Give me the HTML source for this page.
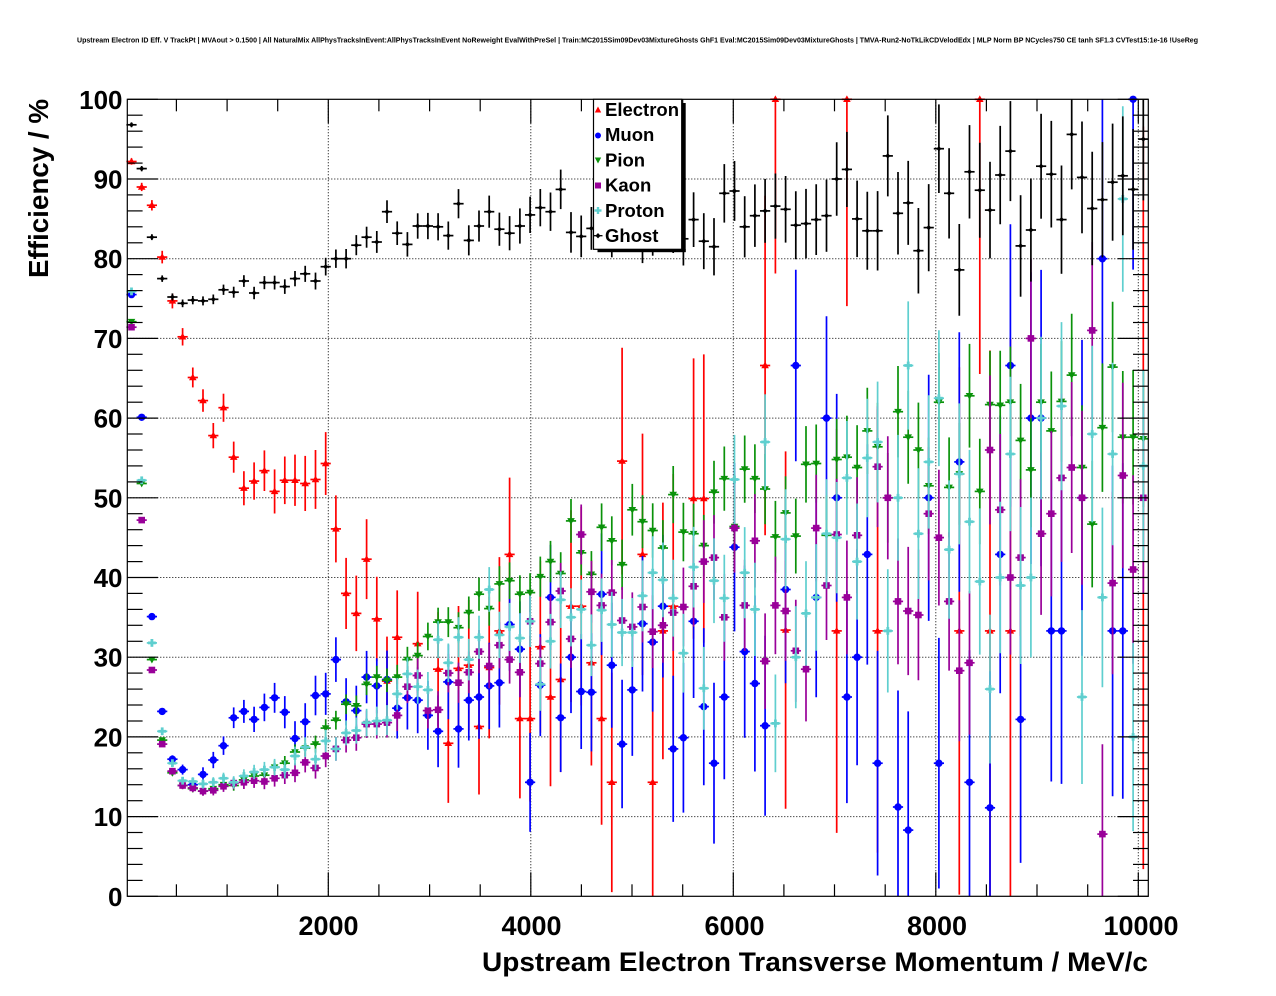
<!DOCTYPE html>
<html><head><meta charset="utf-8">
<style>
html,body{margin:0;padding:0;background:#fff;}
svg{display:block;}
text{font-family:"Liberation Sans",Arial,Helvetica,sans-serif;font-weight:bold;fill:#000;}
</style></head>
<body>
<svg id="s" width="1276" height="996" viewBox="0 0 1276 996" xmlns="http://www.w3.org/2000/svg">
<rect width="1276" height="996" fill="#fff"/>
<text x="637.5" y="42.5" font-size="7" text-anchor="middle" textLength="1121" lengthAdjust="spacingAndGlyphs">Upstream Electron ID Eff. V TrackPt | MVAout &gt; 0.1500 | All NaturalMix AllPhysTracksInEvent:AllPhysTracksInEvent NoReweight EvalWithPreSel | Train:MC2015Sim09Dev03MixtureGhosts GhF1 Eval:MC2015Sim09Dev03MixtureGhosts | TMVA-Run2-NoTkLikCDVelodEdx | MLP Norm BP NCycles750 CE tanh SF1.3 CVTest15:1e-16 !UseReg</text>
<g id="grid" stroke="#000" stroke-width="1" stroke-dasharray="1,2" fill="none"></g>
<g id="data"></g>
<g id="axes" stroke="#000" stroke-width="1.2" fill="none"></g>

<g font-size="26" text-anchor="end">
<text x="122.5" y="905.8">0</text>
<text x="122.5" y="826.1">10</text>
<text x="122.5" y="746.4">20</text>
<text x="122.5" y="666.7">30</text>
<text x="122.5" y="587.0">40</text>
<text x="122.5" y="507.3">50</text>
<text x="122.5" y="427.6">60</text>
<text x="122.5" y="347.9">70</text>
<text x="122.5" y="268.2">80</text>
<text x="122.5" y="188.5">90</text>
<text x="122.5" y="108.8">100</text>
</g>
<g font-size="27" text-anchor="middle">
<text x="328.5" y="935">2000</text>
<text x="531.5" y="935">4000</text>
<text x="734.5" y="935">6000</text>
<text x="937" y="935">8000</text>
<text x="1141" y="935">10000</text>
</g>
<text x="1148" y="971" font-size="27" text-anchor="end" textLength="666" lengthAdjust="spacingAndGlyphs">Upstream Electron Transverse Momentum / MeV/c</text>
<text transform="translate(48,99) rotate(-90)" font-size="27.5" text-anchor="end" textLength="179" lengthAdjust="spacingAndGlyphs">Efficiency / %</text>

<g id="legend">
<rect x="681.7" y="103" width="4" height="149" fill="#000"/>
<rect x="597.5" y="249" width="88.2" height="3.2" fill="#000"/>
<rect x="593.5" y="99.3" width="88.2" height="150" fill="#fff" stroke="#000" stroke-width="1.2"/>
<polygon points="598,106.5 594.8,112.5 601.2,112.5" fill="#ff0000"/>
<circle cx="598" cy="135.5" r="3" fill="#0000ff"/>
<polygon points="594.8,157.5 601.2,157.5 598,163.5" fill="#0a920a"/>
<rect x="595" y="182.5" width="6" height="6" fill="#990099"/>
<rect x="594.5" y="209.3" width="7" height="2.4" fill="#5fcfcf"/><rect x="596.8" y="207" width="2.4" height="7" fill="#5fcfcf"/>
<polygon points="598,233 600.6,235.7 598,238.4 595.4,235.7" fill="#000"/>
<line x1="593.5" y1="235.7" x2="602.5" y2="235.7" stroke="#000" stroke-width="1.3"/>
<g font-size="18.5">
<text x="605" y="116">Electron</text>
<text x="605" y="141.2">Muon</text>
<text x="605" y="166.4">Pion</text>
<text x="605" y="191.6">Kaon</text>
<text x="605" y="216.8">Proton</text>
<text x="605" y="242">Ghost</text>
</g>
</g>
</svg>
<script>
(function(){
const L=127.3,R=1148.3,T=99.3,B=896.3;
let g='',a='';
for(let i=1;i<=9;i++){const y=(B-79.7*i).toFixed(1);g+='<line x1="'+L+'" y1="'+y+'" x2="'+R+'" y2="'+y+'"/>';}
for(let i=1;i<=5;i++){const x=(125.8+202.5*i).toFixed(1);g+='<line x1="'+x+'" y1="'+T+'" x2="'+x+'" y2="'+B+'"/>';}
document.getElementById('grid').innerHTML=g;
for(let j=1;j<=20;j++){const x=(125.8+50.625*j).toFixed(1);const l=(j%4==0)?24:12;
a+='<line x1="'+x+'" y1="'+B+'" x2="'+x+'" y2="'+(B-l)+'"/><line x1="'+x+'" y1="'+T+'" x2="'+x+'" y2="'+(T+l)+'"/>';}
for(let j=0;j<=50;j++){const y=(B-15.94*j).toFixed(1);const l=(j%5==0)?30.6:15.3;
a+='<line x1="'+L+'" y1="'+y+'" x2="'+(L+l)+'" y2="'+y+'"/><line x1="'+R+'" y1="'+y+'" x2="'+(R-l)+'" y2="'+y+'"/>';}
a+='<rect x="'+L+'" y="'+T+'" width="'+(R-L)+'" height="'+(B-T)+'"/>';
document.getElementById('axes').innerHTML=a;

const _=null;
const E=[92.2,89.0,86.7,80.2,74.7,70.2,65.1,62.2,57.8,61.3,
55.1,51.2,52.1,53.4,50.8,52.2,52.2,51.8,52.3,54.3,
46.1,38.0,35.5,42.3,34.8,27.0,32.5,_,31.7,_,
28.5,19.2,28.6,29.0,21.3,28.7,33.3,42.9,22.3,22.3,
31.3,25.0,27.2,36.4,36.4,29.3,22.3,14.3,54.6,_,
42.9,14.3,33.3,36.4,_,49.9,49.9,_,_,_,
_,_,66.6,100,33.4,_,_,_,_,33.3,
100,_,_,33.3,_,_,_,_,_,_,
_,33.3,_,100,33.3,_,33.3,_,_,_,
_,_,_,_,_,_,_,_,_,50];
const Bm=[75.5,60.1,35.1,23.2,17.2,15.9,14.0,15.3,17.1,18.9,
22.4,23.2,22.2,23.7,24.9,23.1,19.8,21.9,25.2,25.4,
29.7,24.4,23.3,27.5,26.4,27.2,23.6,24.9,24.6,22.7,
20.7,26.9,21.0,24.6,25.0,26.4,26.8,34.1,31.0,14.3,
26.5,37.5,22.4,30.0,25.7,25.6,37.9,29.0,19.1,25.9,
34.2,31.9,36.4,18.5,19.9,34.5,23.8,16.7,25.0,43.8,
30.7,26.7,21.4,_,38.5,66.6,_,37.5,60,50,
25,30,42.9,16.7,_,11.2,8.3,_,50,16.7,
_,54.5,14.3,_,11.1,42.9,66.6,22.2,60,60,
33.3,33.3,_,50,_,80,33.3,33.3,100,_];
const P=[72.1,51.8,29.7,19.6,15.5,13.9,13.5,13.2,13.5,14.0,
13.9,14.6,15.1,15.2,16.2,16.7,18.1,18.6,19.1,21.1,
22.1,24.1,23.9,26.6,27.5,27.1,27.5,29.7,30.2,32.6,
34.4,34.4,33.7,35.6,37.9,36.1,39.2,39.6,37.9,38.1,
40.1,42.0,40.5,47.1,43.1,40.4,46.3,44.6,41.6,48.5,
47.0,45.9,43.7,50.4,45.7,45.5,44.0,50.7,52.4,46.4,
53.6,52.4,51.1,45.1,48.1,45.2,54.2,54.3,45.3,54.8,
55.1,53.8,58.4,56.4,50.0,60.8,57.6,56.0,51.5,62.0,
51.3,53.0,62.8,50.8,61.7,61.6,62.0,57.2,53.5,62.0,
58.4,62.1,65.4,53.8,46.7,58.8,66.4,57.6,57.6,57.4];
const K=[71.4,47.2,28.4,19.1,15.7,13.9,13.6,13.2,13.3,13.8,
14.2,14.3,14.5,14.4,14.8,15.2,15.5,16.8,16.1,17.6,
18.5,19.6,19.9,21.6,21.6,21.8,22.7,26.3,27.7,23.3,
23.4,28.0,26.8,28.1,30.7,28.9,31.5,29.7,28.1,34.5,
29.2,34.4,38.3,32.3,45.4,38.2,36.5,38.1,34.6,33.8,
36.3,33.2,34.0,35.6,36.3,38.9,42.0,42.5,35.0,46.2,
36.5,44.6,29.5,36.5,35.8,30.8,28.5,46.2,39.0,45.4,
37.5,45.3,_,53.9,50.0,37.0,35.8,35.3,48.0,45.0,
37.0,28.3,29.3,_,56.0,48.5,40.0,42.5,70.0,45.5,
48.0,52.5,53.8,50.0,71.0,7.8,39.3,52.8,41.0,50.0];
const C=[75.9,52.2,31.8,20.7,16.7,14.5,14.4,14.1,14.3,14.8,
14.3,15.1,15.6,15.9,16.2,15.9,17.6,18.7,17.2,19.5,
18.5,20.5,20.8,21.8,22.0,22.1,25.4,27.9,26.3,25.9,
32.2,29.3,32.5,29.7,32.5,38.5,32.8,33.8,32.4,34.5,
26.6,32.0,37.2,35.0,36.0,31.5,35.9,34.1,33.1,33.1,
37.7,40.6,39.7,37.4,30.5,41.3,26.1,39.6,37.4,52.3,
40.6,36.0,57.0,21.7,44.8,30.0,35.5,37.5,45.5,45.0,
52.5,42.0,55.0,57.0,33.3,50.0,66.6,45.5,54.5,62.5,
43.5,53.0,47.0,39.5,26.0,40.0,55.5,39.0,40.0,60.0,
_,61.5,_,25.0,58.0,37.5,55.5,87.5,20.0,54.0];
const G=[96.8,91.3,82.7,77.5,75.2,74.4,74.8,74.7,74.9,76.1,
75.8,77.2,75.7,77.0,77.0,76.5,77.5,78.1,77.2,79.0,
80.0,80.0,81.7,82.7,82.1,85.9,83.2,81.8,84.1,84.1,
84.0,82.9,86.9,82.3,84.1,85.9,83.7,83.2,84.1,85.5,
86.4,85.9,88.7,83.3,82.8,83.8,84.5,83.0,85.5,84.0,
82.5,83.5,85.0,84.0,82.5,84.9,82.2,81.5,88.2,88.5,
84.0,85.4,86.0,86.6,86.2,84.2,84.4,84.9,85.4,90.0,
91.2,85.0,83.5,83.5,92.9,85.7,87.0,81.0,83.9,93.8,
88.2,78.6,90.9,88.6,86.1,90.5,93.5,81.6,83.6,91.6,
90.6,84.9,95.6,90.2,86.3,87.4,89.6,90.4,88.7,95.0];

const X0=131.5,DX=10.22,SY=7.97;
function ey(v){return B-SY*v;}
function f(n){return n.toFixed(1);}
const mk={
 up:(x,y,c)=>'<polygon points="'+f(x)+','+f(y-3.9)+' '+f(x-3.8)+','+f(y+2.7)+' '+f(x+3.8)+','+f(y+2.7)+'" fill="'+c+'"/>',
 dn:(x,y,c)=>'<polygon points="'+f(x-3.8)+','+f(y-2.8)+' '+f(x+3.8)+','+f(y-2.8)+' '+f(x)+','+f(y+3.9)+'" fill="'+c+'"/>',
 ci:(x,y,c)=>'<circle cx="'+f(x)+'" cy="'+f(y)+'" r="3.7" fill="'+c+'"/>',
 sq:(x,y,c)=>'<rect x="'+f(x-3.3)+'" y="'+f(y-3.3)+'" width="6.6" height="6.6" fill="'+c+'"/>',
 pl:(x,y,c)=>'<rect x="'+f(x-3.9)+'" y="'+f(y-1.4)+'" width="7.8" height="2.8" fill="'+c+'"/><rect x="'+f(x-1.4)+'" y="'+f(y-3.9)+'" width="2.8" height="7.8" fill="'+c+'"/>',
 di:(x,y,c)=>'<polygon points="'+f(x)+','+f(y-2.6)+' '+f(x+2.6)+','+f(y)+' '+f(x)+','+f(y+2.6)+' '+f(x-2.6)+','+f(y)+'" fill="'+c+'"/>'
};
function draw(arr,col,errf,m){
 let s='';
 arr.forEach((v,k)=>{ if(v==null) return;
  const x=X0+DX*k,y=ey(v),e=errf(k);
  const lo=Math.max(0,v-e),hi=Math.min(100,v+e);
  s+='<line x1="'+f(x)+'" y1="'+f(ey(hi))+'" x2="'+f(x)+'" y2="'+f(ey(lo))+'" stroke="'+col+'" stroke-width="1.7"/>';
  s+='<line x1="'+f(x-5.1)+'" y1="'+f(y)+'" x2="'+f(x+5.1)+'" y2="'+f(y)+'" stroke="'+col+'" stroke-width="1.7"/>';
  s+=m(x,y,col);
 });
 return s;
}
let d='';
d+=draw(E,'#ff0000',k=>0.4+0.12*k+0.0035*k*k,mk.up);
d+=draw(Bm,'#0000ff',k=>Math.max(0.3,0.12*k+0.001*k*k),mk.ci);
d+=draw(P,'#0a920a',k=>0.2+0.04*k+0.00045*k*k,mk.dn);
d+=draw(K,'#990099',k=>0.2+0.05*k+0.0007*k*k,mk.sq);
d+=draw(C,'#5fcfcf',k=>0.2+0.05*k+0.0007*k*k,mk.pl);
d+=draw(G,'#000000',k=>0.3+0.035*k+0.0004*k*k,mk.di);
document.getElementById('data').innerHTML=d;
})();
</script>
</body></html>
